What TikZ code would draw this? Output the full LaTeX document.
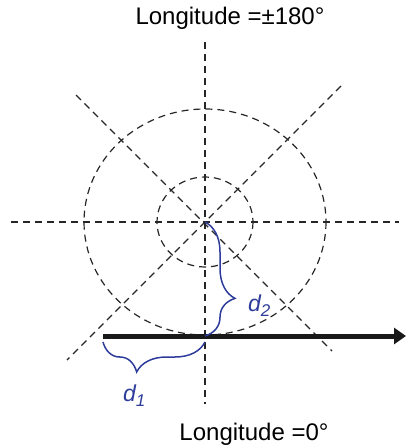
\documentclass[tikz,border=0pt]{standalone}
\usepackage{fontspec}
\setmainfont{Liberation Sans}
\usetikzlibrary{arrows.meta,decorations.pathreplacing}
\definecolor{braceblue}{RGB}{45,60,155}
\begin{document}
\begin{tikzpicture}[x=1pt,y=-1pt,
  dashline/.style={dash pattern=on 7pt off 5pt, line width=1.2pt, black!85},
  axisline/.style={line width=5pt, black!90, -{Triangle[length=12pt,width=16pt]}},
  bracestyle/.style={decorate, decoration={brace, amplitude=30pt, aspect=0.67}, draw=braceblue, line width=1.5pt},
  lbl/.style={font=\fontsize{24}{28}\selectfont, inner sep=0pt, anchor=base},
  dlbl/.style={text=braceblue, font=\fontsize{23}{27}\selectfont\itshape, inner sep=0pt, anchor=base west}]
  \useasboundingbox (0,0) rectangle (407,447);
  % centre and line ends
  \coordinate (O) at (205,222);
  \coordinate (vn) at (205,42);
  \coordinate (vs) at (205,404);
  \coordinate (hw) at (11,222);
  \coordinate (he) at (399,222);
  \coordinate (ne) at (341,86);
  \coordinate (sw) at (67,360);
  \coordinate (nw) at (76,95);
  \coordinate (se) at (332,351);
  \coordinate (a0) at (103,336);
  \coordinate (a1) at (406,336);
  \coordinate (b1s) at (205,342);
  \coordinate (b1e) at (103,342);
  \coordinate (b2e) at (205,336);
  % dashed grid
  \draw[dashline] (vn) -- (vs);
  \draw[dashline] (hw) -- (he);
  \draw[dashline] (ne) -- (sw);
  \draw[dashline] (nw) -- (se);
  \draw[dashline] (O) ellipse [x radius=121, y radius=113];
  \draw[dashline] (O) ellipse [x radius=48, y radius=45];
  % axis arrow
  \draw[axisline] (a0) -- (a1);
  % braces
  \draw[bracestyle] (O) -- (b2e);
  \draw[bracestyle] (b1s) -- (b1e);
  % labels
  \node[lbl] (t180) at (230,24) {Longitude =±180°};
  \node[lbl] (t0) at (254,440) {Longitude =0°};
  \node[dlbl] (d1) at (123,401) {d\raisebox{-5pt}{\fontsize{17}{20}\selectfont 1}};
  \node[dlbl] (d2) at (248,311) {d\raisebox{-5pt}{\fontsize{17}{20}\selectfont 2}};
\end{tikzpicture}
\end{document}
